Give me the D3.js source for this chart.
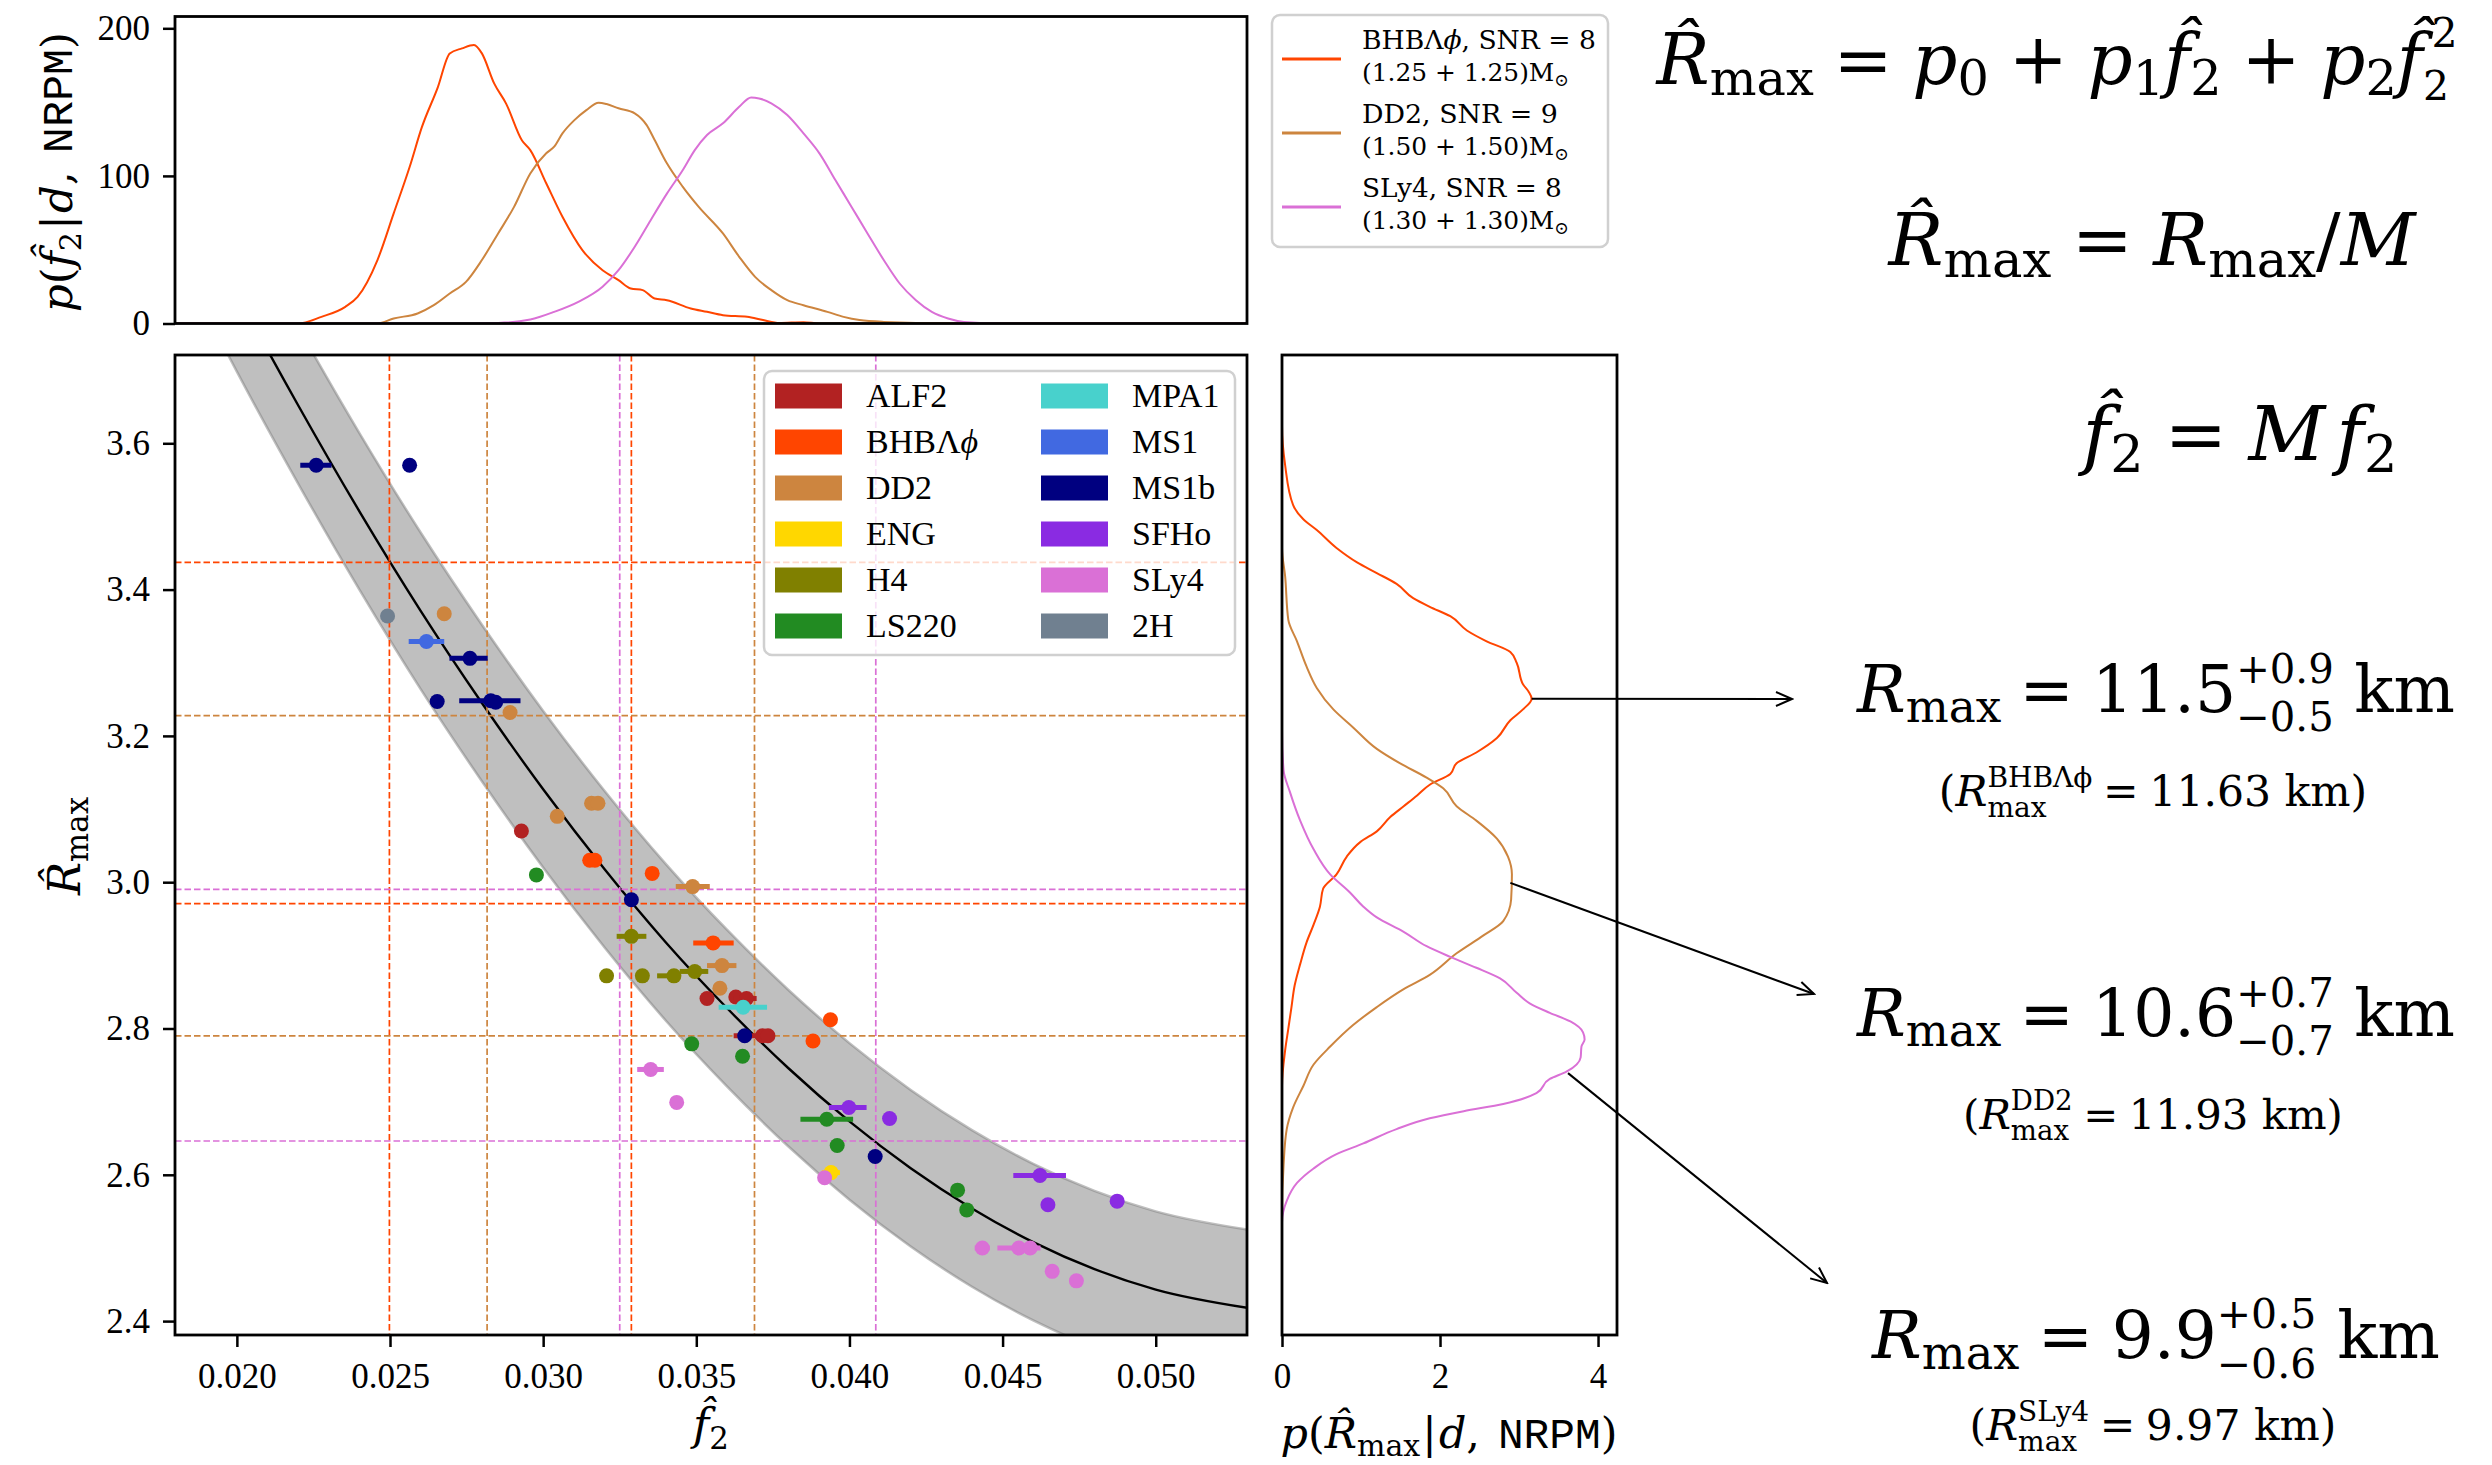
<!DOCTYPE html>
<html><head><meta charset="utf-8">
<script src="https://cdn.jsdelivr.net/npm/d3@7"></script>
<style>body{margin:0;background:#fff} svg text{white-space:pre}</style>
</head><body><svg id="c" width="2492" height="1465" xmlns="http://www.w3.org/2000/svg"></svg>
<script>
// ---------------- DATA ----------------
const eosNames  = ["ALF2","BHBΛϕ","DD2","ENG","H4","LS220","MPA1","MS1","MS1b","SFHo","SLy4","2H"];
const eosColors = ["#B22222","#FF4500","#CD853F","#FFD700","#808000","#228B22","#48D1CC","#4169E1","#000080","#8A2BE2","#DA70D6","#708090"];

// scatter points: [f2, Rmax, errLow, errHigh]
const ptsALF2  = [[0.02929,3.070],[0.03535,2.841],[0.03629,2.843],[0.03664,2.841,0.03622,0.03697],[0.03716,2.790,0.03622,0.03733],[0.03734,2.790]];
const ptsBHB   = [[0.03152,3.030],[0.03169,3.030],[0.03356,3.012],[0.03555,2.917,0.0349,0.03622],[0.03881,2.783],[0.03938,2.812]];
const ptsDD2   = [[0.02677,3.367],[0.02892,3.232],[0.03158,3.108],[0.03179,3.108],[0.03046,3.090],[0.03488,2.994,0.03433,0.03544],[0.03584,2.886,0.03535,0.03631],[0.03577,2.855]];
const ptsENG   = [[0.0394,2.603,0.0391,0.03969]];
const ptsH4    = [[0.03288,2.926,0.0324,0.03337],[0.03207,2.872],[0.03324,2.872],[0.03427,2.872,0.03372,0.03446],[0.03495,2.878,0.03446,0.03539]];
const ptsLS220 = [[0.02978,3.010],[0.03485,2.779],[0.03651,2.762],[0.03926,2.676,0.0384,0.04012],[0.0396,2.640],[0.04353,2.579],[0.04383,2.552]];
const ptsMPA1  = [[0.03653,2.829,0.03573,0.03731]];
const ptsMS1   = [[0.02619,3.329,0.02561,0.02677]];
const ptsMS1b  = [[0.02259,3.570,0.02207,0.02309],[0.02564,3.570],[0.02761,3.306,0.02694,0.02819],[0.02654,3.247],[0.02829,3.248,0.02726,0.02926],[0.02845,3.246],[0.03288,2.976],[0.03658,2.790],[0.04084,2.625]];
const ptsSFHo  = [[0.03998,2.692,0.03933,0.04056],[0.04131,2.677],[0.04622,2.599,0.04535,0.04707],[0.04648,2.559],[0.04874,2.564]];
const ptsSLy4  = [[0.03351,2.744,0.03307,0.03394],[0.03436,2.699],[0.03919,2.596],[0.04434,2.500,0.04409,0.04458],[0.04553,2.500,0.04483,0.04624],[0.0459,2.500],[0.04662,2.468],[0.04741,2.455]];
const pts2H    = [[0.02492,3.364]];
const eosPoints = [ptsALF2,ptsBHB,ptsDD2,ptsENG,ptsH4,ptsLS220,ptsMPA1,ptsMS1,ptsMS1b,ptsSFHo,ptsSLy4,pts2H];

// fit line: [f2, Rmax]
const fitLine = [[0.018,3.968],[0.020,3.805],[0.022,3.652],[0.024,3.507],[0.026,3.371],[0.028,3.245],[0.030,3.127],[0.032,3.018],[0.034,2.918],[0.036,2.828],[0.038,2.746],[0.040,2.673],[0.042,2.609],[0.044,2.554],[0.046,2.508],[0.048,2.471],[0.050,2.443],[0.053,2.418]];
const bandHalfWidth = 0.107;

// top panel posteriors p(f2|d): [f2, density]
const topBHB = [[0.0180,0],[0.0220,0],[0.02276,4.5],[0.02354,11.3],[0.02394,18],[0.02459,43],[0.02512,74.6],[0.02564,106],[0.02604,133],[0.02656,160],[0.02695,183],[0.02735,186.4],[0.02774,188.7],[0.02800,183],[0.02840,162.7],[0.02879,149],[0.02931,124],[0.02958,117.5],[0.0301,95],[0.03063,72.3],[0.03128,49.7],[0.03194,36.1],[0.03246,29.4],[0.03286,23.7],[0.03325,22.6],[0.03364,16.9],[0.03404,15.8],[0.03482,10.2],[0.03535,7.9],[0.03587,5.6],[0.03666,4.5],[0.03718,2.3],[0.03771,0.3],[0.0385,0.9],[0.03902,0],[0.0530,0]];
const topDD2 = [[0.0180,0],[0.02459,0],[0.02512,3.4],[0.0259,6.8],[0.02643,12.4],[0.02695,20.3],[0.02748,28.2],[0.028,43],[0.02853,61],[0.02905,79],[0.02958,101.7],[0.0301,115.3],[0.03036,119.8],[0.03063,128.8],[0.03102,137.8],[0.03141,144.6],[0.03181,149.6],[0.03207,148.7],[0.03246,145.8],[0.03299,142.4],[0.03338,134.4],[0.03364,124.3],[0.03404,108.5],[0.03456,92.6],[0.03508,79],[0.03587,61],[0.0364,45.2],[0.03692,31.6],[0.03745,22.6],[0.03797,15.8],[0.0385,12.4],[0.03928,7.9],[0.03981,4.5],[0.04033,2.3],[0.04112,1.1],[0.04374,0],[0.0530,0]];
const topSLy4 = [[0.0180,0],[0.02695,0],[0.02853,0.4],[0.02958,2.7],[0.03036,7.9],[0.03115,14.7],[0.03194,24.9],[0.03246,36.1],[0.03299,52],[0.03351,70],[0.03404,88],[0.03456,104],[0.03495,117.5],[0.03535,127.7],[0.03587,135.6],[0.0364,146.8],[0.03679,153.2],[0.03705,152.5],[0.03745,149.2],[0.03797,141.2],[0.0385,128.8],[0.03902,115.3],[0.03954,97.2],[0.04007,79],[0.04059,61],[0.04112,43],[0.04164,27.1],[0.04217,15.8],[0.04269,7.9],[0.04322,3.4],[0.04374,1.1],[0.04505,0],[0.0530,0]];

// right panel posteriors p(Rmax|d): [Rmax, density]
const rightBHB = [[3.72,0],[3.6235,0],[3.5697,0.04],[3.5157,0.14],[3.4961,0.27],[3.4814,0.44],[3.4569,0.69],[3.4372,0.95],[3.4226,1.20],[3.4078,1.45],[3.3882,1.66],[3.3764,1.87],[3.3636,2.13],[3.3441,2.34],[3.3293,2.59],[3.3147,2.89],[3.30,2.97],[3.2706,3.05],[3.2607,3.12],[3.2509,3.16],[3.2362,3.05],[3.2215,2.89],[3.197,2.72],[3.1773,2.46],[3.1627,2.21],[3.148,2.13],[3.1332,1.87],[3.1185,1.71],[3.1038,1.54],[3.0891,1.37],[3.0695,1.20],[3.0548,0.99],[3.0351,0.82],[3.0107,0.69],[2.991,0.52],[2.9665,0.48],[2.942,0.40],[2.9175,0.31],[2.888,0.23],[2.8587,0.16],[2.8293,0.12],[2.7998,0.08],[2.7704,0.04],[2.7214,0],[2.381,0]];
const rightDD2 = [[3.72,0],[3.4569,0],[3.4177,0.04],[3.3587,0.08],[3.3293,0.19],[3.295,0.31],[3.2656,0.44],[3.2362,0.65],[3.2116,0.90],[3.1822,1.20],[3.1627,1.49],[3.143,1.83],[3.1284,2.04],[3.1038,2.21],[3.0842,2.46],[3.0596,2.72],[3.0351,2.86],[3.0107,2.91],[2.9764,2.90],[2.9469,2.80],[2.9273,2.55],[2.9028,2.21],[2.8733,1.87],[2.8538,1.54],[2.8293,1.20],[2.8047,0.90],[2.7753,0.61],[2.7508,0.40],[2.7214,0.27],[2.6919,0.14],[2.6625,0.06],[2.6135,0.02],[2.5448,0],[2.381,0]];
const rightSLy4 = [[3.72,0],[3.2067,0],[3.1528,0.02],[3.1235,0.10],[3.0842,0.23],[3.045,0.40],[3.0107,0.61],[2.986,0.86],[2.9665,1.03],[2.9518,1.20],[2.9322,1.54],[2.9125,1.83],[2.8979,2.13],[2.8831,2.46],[2.8685,2.76],[2.8488,2.97],[2.8341,3.14],[2.8214,3.39],[2.8096,3.65],[2.7948,3.81],[2.7851,3.83],[2.7753,3.79],[2.7606,3.78],[2.741,3.60],[2.7311,3.39],[2.7116,3.22],[2.6968,2.80],[2.687,2.30],[2.6772,1.87],[2.6625,1.45],[2.6429,1.03],[2.6282,0.69],[2.6087,0.40],[2.5889,0.19],[2.5645,0.06],[2.5351,0],[2.381,0]];

// credible-interval guide lines
const bhbF2Interval  = [0.02498, 0.03288];
const dd2F2Interval  = [0.02817, 0.03690];
const sly4F2Interval = [0.03250, 0.04086];
const bhbRInterval   = [3.4373, 2.9706];
const dd2RInterval   = [3.2276, 2.7898];
const sly4RInterval  = [2.9903, 2.6462];

// arrow anchors on the R posteriors: [Rmax, density]
const arrowAnchors = [[3.2509,3.16],[2.999,2.89],[2.739,3.62]];

// tick values
const f2Ticks = [0.020,0.025,0.030,0.035,0.040,0.045,0.050];
const rTicks  = [2.4,2.6,2.8,3.0,3.2,3.4,3.6];
const pTicks  = [0,100,200];
const dTicks  = [0,2,4];

const postColors = {BHB:"#FF4500", DD2:"#CD853F", SLy4:"#DA70D6"};

// ---------------- DRAW ----------------
const serif = "'Liberation Serif','DejaVu Serif',serif";
const mserif = "'DejaVu Serif','Liberation Serif',serif";
const mono  = "'Liberation Mono','DejaVu Sans Mono',monospace";
const svg = d3.select("#c").attr("font-family", serif);
svg.append("rect").attr("width",2492).attr("height",1465).attr("fill","#fff");

const xF = d3.scaleLinear([0.01798,0.05298],[175,1247]);
const yR = d3.scaleLinear([2.381,3.7207],[1335,355]);
const yP = d3.scaleLinear([0,208],[323.5,16.5]);
const xD = d3.scaleLinear([0,4.24],[1282,1617]);

const defs = svg.append("defs");
function clip(id,x,y,w,h){defs.append("clipPath").attr("id",id).append("rect").attr("x",x).attr("y",y).attr("width",w).attr("height",h);}
clip("cMain",175,355,1072,980); clip("cTop",175,16.5,1072,307); clip("cRight",1282,355,335,980);
defs.append("marker").attr("id","arr").attr("markerUnits","userSpaceOnUse").attr("markerWidth",20).attr("markerHeight",20)
  .attr("viewBox","0 0 20 20").attr("refX",18).attr("refY",10).attr("orient","auto")
  .append("path").attr("d","M2,3 L18,10 L2,17").attr("fill","none").attr("stroke","#000").attr("stroke-width",2);

function layout(g, parts, y, fs, font){
  let cx = 0;
  for (const p of parts){
    if (p.stack){
      const s=(p.s||0.62)*fs;
      const x0 = cx+(p.lsp||0)*fs;
      const a=g.append("text").attr("x",x0).attr("y",y-(p.up!=null?p.up:0.45)*fs).attr("font-size",s).text(p.stack[0]);
      const b=g.append("text").attr("x",x0-(p.subBack||0)*fs).attr("y",y+(p.dn!=null?p.dn:0.3)*fs).attr("font-size",s).text(p.stack[1]);
      cx = x0 + Math.max(a.node().getComputedTextLength(), b.node().getComputedTextLength()) + (p.sp||0)*fs;
      continue;
    }
    cx += (p.lsp||0)*fs;
    const size=(p.s||1)*fs, by=y+(p.dy||0)*fs;
    const t=g.append("text").attr("x",cx).attr("y",by).attr("font-size",size).text(p.t);
    if (p.it) t.attr("font-style","italic");
    if (p.mono) t.attr("font-family",mono);
    cx += t.node().getComputedTextLength() + (p.sp||0)*fs;
  }
  return cx;
}
function math(parent, parts, x, y, fs, anchor, targetW, font){
  font = font || mserif;
  let g = parent.append("g").attr("font-family", font);
  let w = layout(g, parts, y, fs, font);
  if (targetW){
    const f2 = Math.max(0.8*fs, Math.min(1.25*fs, fs*targetW/w));
    g.remove();
    g = parent.append("g").attr("font-family", font);
    w = layout(g, parts, y, f2, font);
  }
  const sx = anchor==="middle" ? x-w/2 : anchor==="end" ? x-w : x;
  g.attr("transform",`translate(${sx},0)`);
  return g;
}
const sub = (t,dy)=>({t:t, s:0.7, dy:dy==null?0.18:dy});
const op = (t,k)=>({t:t, lsp:k==null?0.28:k, sp:k==null?0.28:k});
const Rhat = {t:"R\u0302", it:1}, fhat = {t:"f\u0302", it:1};

// ---- main panel ----
const main = svg.append("g");
const mc = main.append("g").attr("clip-path","url(#cMain)");
mc.append("path").datum(fitLine)
  .attr("d", d3.area().x(d=>xF(d[0])).y0(d=>yR(d[1]-bandHalfWidth)).y1(d=>yR(d[1]+bandHalfWidth)).curve(d3.curveMonotoneX))
  .attr("fill","#808080").attr("fill-opacity",0.5).attr("stroke","#808080").attr("stroke-opacity",0.5).attr("stroke-width",2.5);
mc.append("path").datum(fitLine)
  .attr("d", d3.line().x(d=>xF(d[0])).y(d=>yR(d[1])).curve(d3.curveMonotoneX))
  .attr("fill","none").attr("stroke","#000").attr("stroke-width",2.4);

const guides = [[bhbF2Interval,bhbRInterval,postColors.BHB],[dd2F2Interval,dd2RInterval,postColors.DD2],[sly4F2Interval,sly4RInterval,postColors.SLy4]];
guides.forEach(([fi,ri,c])=>{
  fi.forEach(v=>mc.append("line").attr("x1",xF(v)).attr("x2",xF(v)).attr("y1",355).attr("y2",1335)
     .attr("stroke",c).attr("stroke-width",1.7).attr("stroke-dasharray","6.5,3"));
  ri.forEach(v=>mc.append("line").attr("x1",175).attr("x2",1247).attr("y1",yR(v)).attr("y2",yR(v))
     .attr("stroke",c).attr("stroke-width",1.7).attr("stroke-dasharray","6.5,3"));
});

eosPoints.forEach((arr,i)=>{
  const g = mc.append("g");
  arr.forEach(d=>{
    if (d.length>2) g.append("line").attr("x1",xF(d[2])).attr("x2",xF(d[3])).attr("y1",yR(d[1])).attr("y2",yR(d[1]))
       .attr("stroke",eosColors[i]).attr("stroke-width",5);
    g.append("circle").attr("cx",xF(d[0])).attr("cy",yR(d[1])).attr("r",7.5).attr("fill",eosColors[i]);
  });
});

// main legend
const lg = main.append("g");
lg.append("rect").attr("x",764).attr("y",371).attr("width",471).attr("height",284).attr("rx",8)
  .attr("fill","#fff").attr("fill-opacity",0.8).attr("stroke","#d0d0d0").attr("stroke-width",2.5);
eosNames.forEach((n,i)=>{
  const col=Math.floor(i/6), row=i%6;
  const px = col===0?775:1041, tx = col===0?866:1132, cy = 396+row*46;
  lg.append("rect").attr("x",px).attr("y",cy-12.5).attr("width",67).attr("height",25).attr("fill",eosColors[i]);
  const parts = n==="BHBΛϕ" ? [{t:"BHBΛ"},{t:"ϕ",it:1}] : [{t:n}];
  math(lg, parts, tx, cy+11, 34, "start", null, serif);
});

// main axes
const ax = d3.axisBottom(xF).tickValues(f2Ticks).tickFormat(d3.format(".3f")).tickSize(12).tickPadding(16);
const gx = svg.append("g").attr("transform","translate(0,1335)").call(ax);
const ay = d3.axisLeft(yR).tickValues(rTicks).tickFormat(d3.format(".1f")).tickSize(12).tickPadding(13);
const gy = svg.append("g").attr("transform","translate(175,0)").call(ay);

// ---- top panel ----
const tc = svg.append("g").attr("clip-path","url(#cTop)");
[[topBHB,postColors.BHB],[topDD2,postColors.DD2],[topSLy4,postColors.SLy4]].forEach(([d,c])=>{
  tc.append("path").datum(d).attr("d",d3.line().x(p=>xF(p[0])).y(p=>yP(p[1])).curve(d3.curveMonotoneX))
    .attr("fill","none").attr("stroke",c).attr("stroke-width",2);
});
const gyp = svg.append("g").attr("transform","translate(175,0)")
  .call(d3.axisLeft(yP).tickValues(pTicks).tickFormat(d3.format("d")).tickSize(12).tickPadding(13));

// ---- right panel ----
const rc = svg.append("g").attr("clip-path","url(#cRight)");
[[rightBHB,postColors.BHB],[rightDD2,postColors.DD2],[rightSLy4,postColors.SLy4]].forEach(([d,c])=>{
  rc.append("path").datum(d).attr("d",d3.line().x(p=>xD(p[1])).y(p=>yR(p[0])).curve(d3.curveMonotoneY))
    .attr("fill","none").attr("stroke",c).attr("stroke-width",2);
});
const gxd = svg.append("g").attr("transform","translate(0,1335)")
  .call(d3.axisBottom(xD).tickValues(dTicks).tickFormat(d3.format("d")).tickSize(12).tickPadding(16));

// axis styling
[gx,gy,gyp,gxd].forEach(g=>{
  g.attr("font-family",serif);
  g.select(".domain").remove();
  g.selectAll(".tick line").attr("stroke","#000").attr("stroke-width",2.5);
  g.selectAll(".tick text").attr("font-family",serif).attr("font-size",35).attr("fill","#000");
});

// spines
[[175,355,1072,980],[175,16.5,1072,307],[1282,355,335,980]].forEach(([x,y,w,h])=>
  svg.append("rect").attr("x",x).attr("y",y).attr("width",w).attr("height",h).attr("fill","none").attr("stroke","#000").attr("stroke-width",2.8));

// top legend
const tl = svg.append("g");
tl.append("rect").attr("x",1272).attr("y",15).attr("width",336).attr("height",232).attr("rx",8)
  .attr("fill","#fff").attr("stroke","#d0d0d0").attr("stroke-width",2.5);
const topLeg = [
  [postColors.BHB, [{t:"BHBΛ"},{t:"ϕ",it:1},{t:", SNR = 8"}], "(1.25 + 1.25)M", 234],
  [postColors.DD2, [{t:"DD2, SNR = 9"}], "(1.50 + 1.50)M", 196],
  [postColors.SLy4,[{t:"SLy4, SNR = 8"}], "(1.30 + 1.30)M", 200]];
topLeg.forEach(([c,l1,l2,w1],i)=>{
  const cy = 59 + i*74;
  tl.append("line").attr("x1",1282).attr("x2",1341).attr("y1",cy).attr("y2",cy).attr("stroke",c).attr("stroke-width",3);
  math(tl, l1, 1362, cy-10, 25, "start", w1);
  math(tl, [{t:l2},{t:"\u2299",s:0.7,dy:0.22}], 1362, cy+22, 25, "start", 207);
});

// axis labels
math(svg, [fhat, sub("2",0.2)], 711, 1440, 44, "middle");
math(svg.append("g").attr("transform","translate(80,846) rotate(-90)"),
  [Rhat, sub("max",0.18)], 0, 0, 44, "middle");
math(svg.append("g").attr("transform","translate(72,172) rotate(-90)"),
  [{t:"p",it:1},{t:"("},fhat,sub("2",0.2),{t:"|",lsp:0.05},{t:"d",it:1,lsp:0.05},{t:", ",sp:0.1},{t:"NRPM",mono:1},{t:")"}], 0, 0, 40, "middle", 280);
math(svg,
  [{t:"p",it:1},{t:"("},Rhat,sub("max",0.18),{t:"|",lsp:0.05},{t:"d",it:1,lsp:0.05},{t:", ",sp:0.1},{t:"NRPM",mono:1},{t:")"}], 1449, 1448, 40, "middle", 337);

// equations
const fsE = 68;
math(svg, [Rhat,sub("max",0.16),op("="),{t:"p",it:1},sub("0",0.16),op("+"),
  {t:"p",it:1},sub("1",0.16),fhat,sub("2",0.16),op("+"),
  {t:"p",it:1},sub("2",0.16),fhat,{stack:["2","2"],s:0.58,up:0.52,dn:0.22,lsp:0.12,subBack:0.12}], 2057, 84, fsE, "middle", 801);
math(svg, [Rhat,sub("max",0.16),op("="),{t:"R",it:1},sub("max",0.16),{t:"/"},{t:"M",it:1}], 2152, 265, fsE, "middle", 527);
math(svg, [fhat,sub("2",0.16),op("="),{t:"M",it:1,sp:0.15},{t:"f",it:1},sub("2",0.16)], 2240, 460, fsE, "middle", 315);

const results = [
  ["11.5","+0.9","\u22120.5","BHBΛϕ","11.63",712,806,598,438],
  ["10.6","+0.7","\u22120.7","DD2","11.93",1036,1129,598,380],
  ["9.9","+0.5","\u22120.6","SLy4","9.97",1358,1440,568,367]];
results.forEach(([v,up,dn,name,ref,yb,yb2,w1,w2])=>{
  math(svg,[{t:"R",it:1},sub("max",0.16),op("="),{t:v},{stack:[up,dn],up:0.45,dn:0.3},{t:" km"}], 2156, yb, fsE, "middle", w1);
  math(svg,[{t:"("},{t:"R",it:1},{stack:[name,"max"],s:0.66,up:0.45,dn:0.26},op("=",0.25),{t:ref+" km)"}], 2153, yb2, 34, "middle", w2);
});

// arrows
const arrowEnds = [[1792,699],[1814,994],[1827,1283]];
arrowAnchors.forEach((a,i)=>{
  svg.append("line").attr("x1",xD(a[1])).attr("y1",yR(a[0])).attr("x2",arrowEnds[i][0]).attr("y2",arrowEnds[i][1])
    .attr("stroke","#000").attr("stroke-width",2).attr("marker-end","url(#arr)");
});
</script></body></html>
